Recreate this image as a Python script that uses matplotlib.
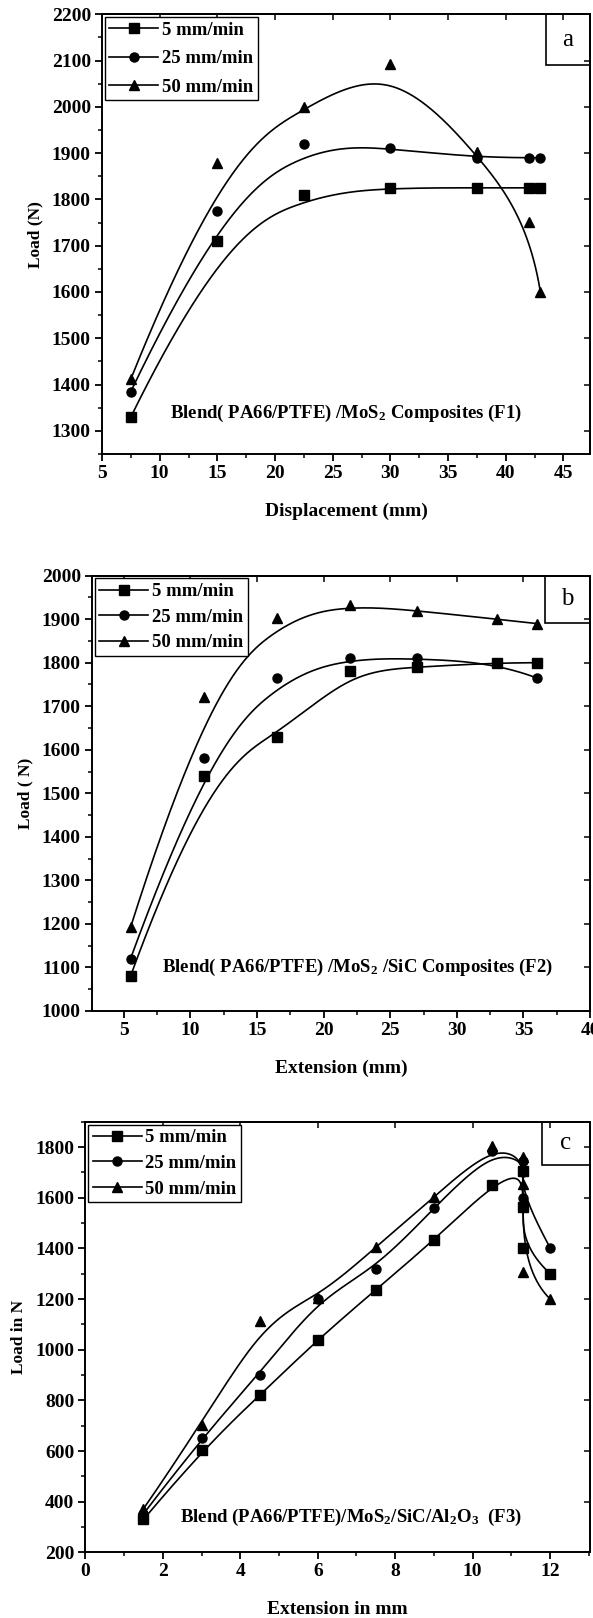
import numpy as np
import matplotlib
matplotlib.use('Agg')
import matplotlib.pyplot as plt
from matplotlib.lines import Line2D
from matplotlib.patches import Rectangle
from matplotlib.ticker import MultipleLocator

plt.rcParams['font.family'] = ['Liberation Serif', 'DejaVu Serif']
plt.rcParams['font.weight'] = 'bold'
plt.rcParams['axes.labelweight'] = 'bold'
plt.rcParams['mathtext.fontset'] = 'custom'
plt.rcParams['mathtext.rm'] = 'Liberation Serif:bold'
plt.rcParams['mathtext.it'] = 'Liberation Serif:bold'
plt.rcParams['mathtext.default'] = 'rm'

labels = ['5 mm/min', '25 mm/min', '50 mm/min']
markers = ['s', 'o', '^']

# panel a: F1
disp_a = [7.5, 15, 22.5, 30, 37.5, 42, 43]
load_a_5 = [1330, 1710, 1810, 1825, 1825, 1825, 1825]
load_a_25 = [1385, 1775, 1920, 1910, 1890, 1890, 1890]
load_a_50 = [1412, 1878, 2000, 2092, 1902, 1752, 1600]

# panel b: F2
ext_b = [5.5, 11, 16.5, 22, 27, 33, 36]
load_b_5 = [1080, 1540, 1630, 1780, 1790, 1800, 1800]
load_b_25 = [1120, 1580, 1765, 1810, 1810, 1800, 1765]
load_b_50 = [1192, 1722, 1902, 1932, 1920, 1900, 1890]

# panel c: F3 (several readings at 11.3 mm)
ext_c = [1.5, 3, 4.5, 6, 7.5, 9, 10.5, 11.3, 11.3, 11.3, 12]
load_c_5 = [330, 602, 820, 1040, 1237, 1432, 1652, 1704, 1562, 1400, 1300]
load_c_25 = [352, 652, 902, 1200, 1320, 1560, 1785, 1744, 1702, 1600, 1402]
load_c_50 = [372, 704, 1112, 1205, 1405, 1603, 1803, 1760, 1653, 1305, 1200]


def bspline(xs, ys, k=3, n=600):
    # clamped B-spline using the points as control points (Origin style)
    pts = np.column_stack([xs, ys]).astype(float)
    m = len(pts)
    knots = np.concatenate([np.zeros(k), np.linspace(0, 1, m - k + 1), np.ones(k)])
    t = np.linspace(0, 1 - 1e-9, n)
    N = np.zeros((n, len(knots) - 1))
    for i in range(len(knots) - 1):
        N[:, i] = (t >= knots[i]) & (t < knots[i + 1])
    for d in range(1, k + 1):
        Nn = np.zeros((n, len(knots) - 1 - d))
        for i in range(len(knots) - 1 - d):
            a = knots[i + d] - knots[i]
            b = knots[i + d + 1] - knots[i + 1]
            left = (t - knots[i]) / a * N[:, i] if a > 0 else 0
            right = (knots[i + d + 1] - t) / b * N[:, i + 1] if b > 0 else 0
            Nn[:, i] = left + right
        N = Nn
    curve = N[:, :m] @ pts
    return curve[:, 0], curve[:, 1]


def panel(rect, x, series, xlim, ylim, xstep, xminor, ystep, yminor,
          xlabel, ylabel, note, note_x, note_y, tag, tag_x, tag_y, spacing):
    ax = fig.add_axes(rect)
    for ys, mk in zip(series, markers):
        cx, cy = bspline(x, ys)
        ax.plot(cx, cy, color='black', lw=1.2)
        ax.plot(x, ys, ls='none', marker=mk, ms=6.5, color='black')
    ax.set_xlim(*xlim)
    ax.set_ylim(*ylim)
    ax.xaxis.set_major_locator(MultipleLocator(xstep))
    ax.xaxis.set_minor_locator(MultipleLocator(xminor))
    ax.yaxis.set_major_locator(MultipleLocator(ystep))
    ax.yaxis.set_minor_locator(MultipleLocator(yminor))
    ax.tick_params(which='major', direction='out', length=5, width=1.3,
                   labelsize=14, pad=3)
    ax.tick_params(which='minor', direction='out', length=3, width=1.1)
    for s in ax.spines.values():
        s.set_linewidth(1.4)
    for side in ['top', 'right']:
        if side == 'top':
            sec = ax.secondary_xaxis('top')
            sec.xaxis.set_major_locator(MultipleLocator(xstep))
        else:
            sec = ax.secondary_yaxis('right')
            sec.yaxis.set_major_locator(MultipleLocator(ystep))
        sec.tick_params(direction='in', length=4, width=1.1,
                        labeltop=False, labelright=False)
        for s in sec.spines.values():
            s.set_linewidth(1.4)
    ax.set_xlabel(xlabel, fontsize=14, labelpad=15)
    ax.set_ylabel(ylabel, fontsize=12.5, labelpad=6)
    ax.text(note_x, note_y, note, transform=ax.transAxes, fontsize=13.5,
            ha='center', va='center')
    ax.add_patch(Rectangle((tag_x, tag_y), 1 - tag_x, 1 - tag_y,
                           transform=ax.transAxes, fill=False, lw=1.2,
                           edgecolor='black', clip_on=False))
    ax.text((1 + tag_x) / 2, (1 + tag_y) / 2, tag, transform=ax.transAxes,
            fontsize=18, fontweight='normal', ha='center', va='center')
    handles = [Line2D([], [], color='black', lw=1.2, marker=mk, ms=6.5)
               for mk in markers]
    leg = ax.legend(handles, labels, loc='upper left', bbox_to_anchor=(0, 1),
                    borderaxespad=0.15, fancybox=False, framealpha=1,
                    edgecolor='black', fontsize=13.5, handlelength=2.6,
                    handletextpad=0.2, labelspacing=spacing, borderpad=0.25)
    leg.get_frame().set_linewidth(1.0)
    return ax


fig = plt.figure(figsize=(5.93, 16.18), dpi=100)

panel([0.172, 0.7194, 0.823, 0.2718], disp_a, [load_a_5, load_a_25, load_a_50],
      (5, 47.3), (1250, 2200), 5, 2.5, 100, 50,
      'Displacement (mm)', 'Load (N)',
      'Blend( PA66/PTFE) /MoS$_2$ Composites (F1)', 0.5, 0.093,
      'a', 0.91, 0.885, 0.6)

panel([0.155, 0.3752, 0.84, 0.269], ext_b, [load_b_5, load_b_25, load_b_50],
      (2.6, 40), (1000, 2000), 5, 2.5, 100, 50,
      'Extension (mm)', 'Load ( N)',
      'Blend( PA66/PTFE) /MoS$_2$ /SiC Composites (F2)', 0.534, 0.099,
      'b', 0.91, 0.891, 0.45)

panel([0.144, 0.0406, 0.851, 0.2661], ext_c, [load_c_5, load_c_25, load_c_50],
      (0, 13.03), (200, 1900), 2, 1, 200, 100,
      'Extension in mm', 'Load in N',
      'Blend (PA66/PTFE)/MoS$_2$/SiC/Al$_2$O$_3$  (F3)', 0.527, 0.08,
      'c', 0.904, 0.9, 0.45)

fig.savefig('out.png', dpi=100)
